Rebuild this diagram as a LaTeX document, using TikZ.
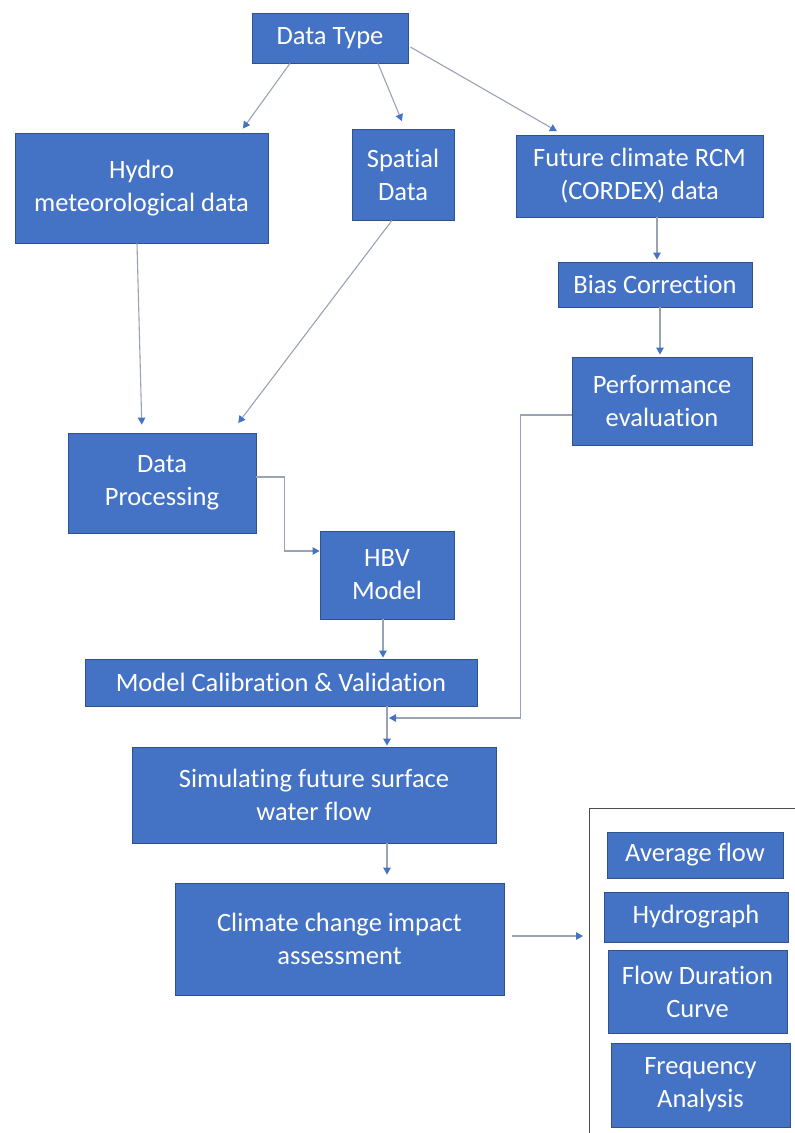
\documentclass[tikz,border=0pt]{standalone}
\usepackage{fontspec}
\setmainfont{Carlito}[Ligatures={NoCommon}]
\usetikzlibrary{arrows.meta}
\definecolor{boxblue}{HTML}{4472C4}
\definecolor{boxedge}{HTML}{2F528F}
\definecolor{lineg}{HTML}{9AA3B5}
\tikzset{
  blk/.style={draw=boxedge, line width=0.8pt, fill=boxblue, text=white, align=center,
    inner sep=0pt, font=\fontsize{26.5}{33}\selectfont},
  conn/.style={draw=lineg, line width=1.1pt,
    -{Triangle[length=7pt,width=7.5pt,color=boxblue]}},
}
\begin{document}
\begin{tikzpicture}[x=1pt,y=-1pt]
\useasboundingbox (0,0) rectangle (795,1133);
\fill[white] (0,0) rectangle (795,1133);
% boxes
\node[blk, minimum width=156pt, minimum height=50pt] (dt) at (330,38) {Data Type};
\node[blk, minimum width=253pt, minimum height=110pt] (hydro) at (141.5,188) {Hydro\\meteorological data};
\node[blk, minimum width=102pt, minimum height=91pt] (spatial) at (403,174.5) {Spatial\\Data};
\node[blk, minimum width=247pt, minimum height=82pt] (future) at (639.5,176) {Future climate RCM\\(CORDEX) data};
\node[blk, minimum width=194pt, minimum height=45pt] (bias) at (655,284.5) {Bias Correction};
\node[blk, minimum width=180pt, minimum height=88pt] (perf) at (662,401) {Performance\\evaluation};
\node[blk, minimum width=188pt, minimum height=100pt] (dp) at (162,483) {Data\\Processing};
\node[blk, minimum width=134pt, minimum height=88pt] (hbv) at (387,575) {HBV\\Model};
\node[blk, minimum width=392pt, minimum height=47pt] (calib) at (281,682.5) {Model Calibration \& Validation};
\node[blk, minimum width=364pt, minimum height=96pt] (sim) at (314,795) {Simulating future surface\\water flow};
\node[blk, minimum width=329pt, minimum height=112pt] (climate) at (339.5,939) {Climate change impact\\assessment};
\node[blk, minimum width=176pt, minimum height=46pt] (avg) at (695,855) {Average flow};
\node[blk, minimum width=184pt, minimum height=50pt] (hydrog) at (696,917) {Hydrograph};
\node[blk, minimum width=179pt, minimum height=83pt] (fdc) at (697.5,991.5) {Flow Duration\\Curve};
\node[blk, minimum width=179pt, minimum height=84pt] (freq) at (700.5,1085) {Frequency\\Analysis};
% output panel (cut off by the page edges)
\coordinate (pbl) at (589,1133);
\coordinate (ptl) at (589,808);
\coordinate (ptr) at (795,808);
\coordinate (pin) at (589,936);
\draw[draw=black!70, line width=1pt] (pbl) -- (ptl) -- (ptr);
% connectors
\draw[conn, shorten >=5pt] ([xshift=-40pt]dt.south) -- ([xshift=98.5pt]hydro.north);
\draw[conn, shorten >=8pt] ([xshift=48pt]dt.south) -- ([xshift=2pt]spatial.north);
\draw[conn, shorten >=7pt] ([xshift=2pt,yshift=-9pt]dt.east) -- ([xshift=-76.5pt]future.north);
\draw[conn, shorten >=8pt] ([xshift=-4.5pt]hydro.south) -- ([xshift=-20pt]dp.north);
\draw[conn, shorten >=12pt] ([xshift=-11pt]spatial.south) -- ([xshift=69pt]dp.north);
\draw[conn, shorten >=2pt] ([xshift=17.5pt]future.south) -- ([xshift=2pt]bias.north);
\draw[conn, shorten >=2pt] ([xshift=5pt]bias.south) -- ([xshift=-2pt]perf.north);
\draw[conn] ([yshift=6pt]dp.east) -- ++(28,0) |- ([yshift=24pt]hbv.west);
\draw[conn, shorten >=1pt] ([xshift=-4pt]hbv.south) -- ([xshift=102pt]calib.north);
\coordinate (fbt) at (389,718);
\draw[conn] ([yshift=-14pt]perf.west) -- ++(-51,0) |- (fbt);
\draw[conn, shorten >=1pt] ([xshift=106pt]calib.south) -- ([xshift=73pt]sim.north);
\draw[conn, shorten >=8pt] ([xshift=73pt]sim.south) -- ([xshift=47.5pt]climate.north);
\draw[conn, shorten <=8pt, shorten >=6pt] ([yshift=3pt]climate.east) -- ([yshift=0pt]pin);
\end{tikzpicture}
\end{document}
